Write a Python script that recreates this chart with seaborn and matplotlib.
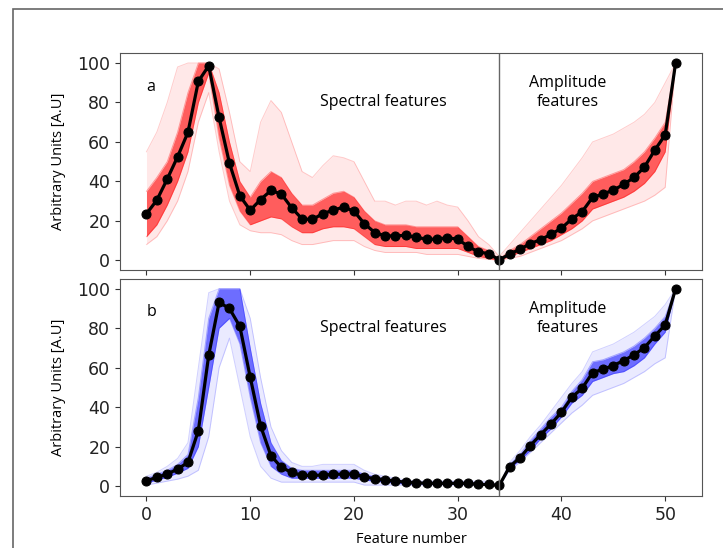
import matplotlib.pyplot as plt
import numpy as np
import pandas as pd
import seaborn as sns
from matplotlib.patches import Rectangle

# feature index
features = np.arange(52)

# panel a: mean curve (black)
mean_a = [23.6, 30.5, 41.2, 52.5, 64.9, 90.7, 98.6, 72.4, 49.2, 32.7,
          25.4, 30.8, 35.4, 33.6, 26.6, 21.0, 20.7, 23.7, 25.4, 27.0,
          24.9, 18.6, 14.1, 12.4, 12.4, 12.7, 11.7, 10.7, 10.7, 11.5,
          10.7, 7.1, 4.2, 3.4, 0.2, 3.2, 5.6, 8.5, 10.5, 13.2,
          16.3, 21.0, 24.7, 31.9, 33.6, 35.6, 38.5, 42.0, 47.3, 55.9,
          63.6, 100.0]
# panel a: outer envelope of the thin red curves
max_a = [55, 65, 80, 98, 100, 100, 100, 97, 75, 50,
         45, 70, 81, 75, 60, 45, 42, 48, 53, 52,
         50, 40, 30, 30, 28, 30, 30, 28, 30, 28,
         27, 20, 12, 8, 2, 8, 14, 20, 26, 32,
         38, 45, 52, 60, 62, 64, 67, 70, 74, 80,
         90, 100]
min_a = [8, 12, 20, 30, 45, 70, 85, 55, 30, 18,
         15, 14, 14, 13, 10, 8, 8, 9, 10, 10,
         10, 7, 5, 4, 4, 4, 4, 3, 3, 3,
         3, 2, 1, 0.5, 0, 1, 2, 4, 6, 8,
         10, 13, 16, 20, 22, 24, 26, 28, 30, 33,
         37, 100]
# panel a: dense part of the red bundle
hi_a = [35, 42, 50, 65, 85, 100, 100, 85, 60, 40,
        32, 40, 45, 42, 34, 28, 28, 31, 34, 35,
        32, 25, 20, 18, 18, 18, 17, 17, 17, 17,
        17, 12, 7, 5, 0.5, 5, 8, 12, 16, 20,
        24, 29, 34, 40, 42, 44, 46, 50, 55, 62,
        70, 100]
lo_a = [12, 18, 28, 40, 55, 80, 95, 62, 38, 25,
        18, 20, 22, 21, 17, 14, 14, 16, 17, 17,
        16, 12, 8, 7, 7, 7, 6, 6, 6, 6,
        6, 4, 2, 1, 0, 2, 4, 6, 8, 10,
        13, 16, 20, 26, 28, 30, 32, 35, 39, 45,
        55, 100]

# panel b: mean curve
mean_b = [2.7, 4.4, 6.1, 8.6, 12.0, 28.1, 66.3, 93.1, 90.0, 80.9,
          55.2, 30.5, 15.4, 9.5, 6.9, 5.4, 5.4, 5.6, 5.9, 6.1,
          6.1, 4.7, 3.7, 3.2, 2.5, 2.0, 1.7, 1.4, 1.4, 1.4,
          1.4, 1.4, 0.8, 0.8, 0.3, 9.8, 14.4, 20.5, 26.1, 31.5,
          37.4, 45.0, 49.6, 57.5, 59.2, 61.1, 63.6, 66.5, 70.2, 76.1,
          81.7, 100.0]
max_b = [5, 7, 10, 14, 22, 60, 98, 100, 100, 100,
         85, 55, 30, 18, 12, 10, 10, 11, 11, 11,
         11, 8, 6, 5, 4, 3, 2.5, 2.5, 2.5, 2.5,
         2.5, 2.5, 2.5, 2.5, 0.5, 12, 18, 25, 31, 38,
         45, 52, 58, 68, 70, 72, 75, 78, 82, 86,
         92, 100]
min_b = [0.5, 1.5, 2.5, 3.5, 5, 8, 25, 60, 75, 50,
         25, 10, 4, 2, 2, 2, 2, 2, 2, 2,
         2, 0.5, 0.5, 0.5, 0.5, 0.5, 0.5, 0.5, 0.5, 0.5,
         0.5, 0.5, 0.5, 0.5, 0, 8, 12, 17, 22, 27,
         32, 37, 41, 46, 48, 50, 52, 55, 58, 62,
         65, 100]
hi_b = [4, 6, 8, 11, 16, 45, 85, 100, 100, 100,
        70, 42, 22, 13, 9, 8, 8, 8, 8, 8,
        8, 6, 5, 4, 3, 2.5, 2, 2, 2, 2,
        2, 2, 1.5, 1.5, 0.3, 11, 16, 23, 29, 35,
        40, 48, 54, 63, 64, 66, 68, 71, 75, 80,
        86, 100]
lo_b = [1.5, 3, 4.5, 6.5, 9, 20, 50, 80, 85, 72,
        45, 22, 10, 6, 4, 4, 4, 4, 4, 4,
        4, 3, 2.5, 2, 1.5, 1, 1, 1, 1, 1,
        1, 1, 0.5, 0.5, 0.1, 9, 13, 18, 24, 29,
        35, 42, 46, 53, 55, 57, 58, 61, 65, 72,
        78, 100]

tick_x = [0, 10, 20, 30, 40, 50]
tick_y = [0, 20, 40, 60, 80, 100]

fig, axes = plt.subplots(2, 1, figsize=(7.23, 5.48), dpi=100, sharex=True)
plt.subplots_adjust(left=0.166, right=0.971, top=0.903, bottom=0.095, hspace=0.04)

panels = [
    (axes[0], 'a', '#ff0000', mean_a, max_a, min_a, hi_a, lo_a),
    (axes[1], 'b', '#1a1aff', mean_b, max_b, min_b, hi_b, lo_b),
]

for ax, letter, col, mean, vmax, vmin, hi, lo in panels:
    ax.fill_between(features, vmin, vmax, color=col, alpha=0.09, linewidth=0)
    ax.fill_between(features, lo, hi, color=col, alpha=0.6, linewidth=0)
    for curve in [vmax, vmin]:
        ax.plot(features, curve, color=col, alpha=0.2, linewidth=0.7)
    for curve in [hi, lo]:
        ax.plot(features, curve, color=col, alpha=0.35, linewidth=0.7)
    df = pd.DataFrame({'feature': features, 'value': mean})
    sns.lineplot(data=df, x='feature', y='value', ax=ax, color='black',
                 linewidth=2.3, marker='o', markersize=6.5, markeredgecolor='black')
    ax.axvline(34, color='#666666', linewidth=1)
    ax.set_yticks(tick_y)
    ax.set_xticks(tick_x)
    ax.tick_params(labelsize=12.5, colors='#333333', labelcolor='#222222')
    for s in ax.spines.values():
        s.set_color('#555555')
    ax.set_ylabel('Arbitrary Units [A.U]', fontsize=10.5, family='Open Sans', labelpad=8)
    ax.set_xlabel('')
    ax.text(0, 88, letter, fontsize=11.5, family='Open Sans', ha='left', va='center')
    ax.text(22.8, 80, 'Spectral features', fontsize=11.5, family='Open Sans', ha='center', va='center')
    ax.text(40.6, 85, 'Amplitude\nfeatures', fontsize=11.5, family='Open Sans',
            ha='center', va='center', linespacing=1.25)

axes[1].set_xlabel('Feature number', fontsize=10.5, family='Open Sans', labelpad=6)

# partial frame around the figure, as in the source image
fig.patches.append(Rectangle((13 / 723, -0.1), 1.2, 1.1 - 9 / 548, transform=fig.transFigure,
                             fill=False, edgecolor='#666666', linewidth=1.2))

plt.savefig('out.png', dpi=100)
